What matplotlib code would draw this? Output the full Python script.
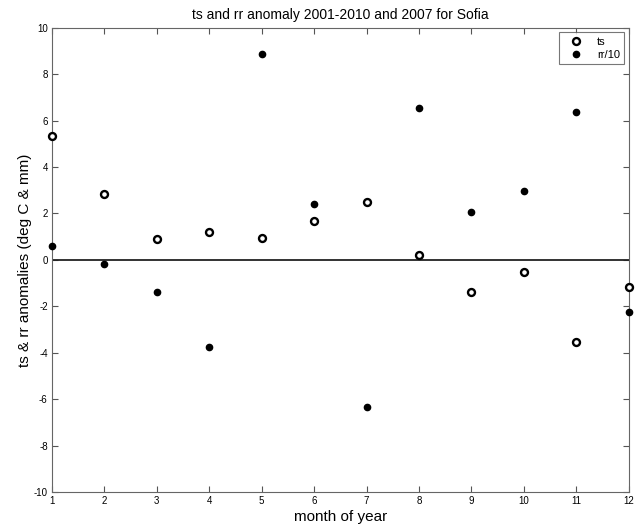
import numpy as np
import matplotlib.pyplot as plt

plt.rcParams['font.family'] = ['Liberation Sans', 'DejaVu Sans']
plt.rcParams['axes.unicode_minus'] = False

# monthly anomalies
months = np.arange(1, 13)
ts = [5.32, 2.86, 0.89, 1.19, 0.93, 1.68, 2.48, 0.21, -1.40, -0.52, -3.56, -1.19]
rr10 = [0.60, -0.17, -1.40, -3.76, 8.87, 2.40, -6.33, 6.56, 2.08, 2.95, 6.36, -2.23]

fig = plt.figure(figsize=(6.41, 5.25), dpi=100)
ax = fig.add_axes([0.081, 0.063, 0.900, 0.884])

ax.plot(months, ts, 'o', mfc='white', mec='black', mew=1.7, ms=5, label='ts', clip_on=False, zorder=3)
ax.plot(months, rr10, 'o', mfc='black', mec='black', ms=4.5, label='rr/10', clip_on=False, zorder=3)
ax.plot([1, 12], [0, 0], color='#222222', lw=1.3, zorder=2)

ax.set_xlim(1, 12)
ax.set_ylim(-10, 10)
ax.set_xticks(months)
ax.set_yticks(np.arange(-10, 11, 2))
ax.tick_params(direction='in', top=True, right=True, length=4, labelsize=7, color='#555555', pad=3)
for s in ax.spines.values():
    s.set_color('#666666')

ax.set_title('ts and rr anomaly 2001-2010 and 2007 for Sofia', fontsize=10)
ax.set_xlabel('month of year', fontsize=11, labelpad=3)
ax.set_ylabel('ts & rr anomalies (deg C & mm)', fontsize=11, labelpad=1)

leg = ax.legend(loc='upper right', fontsize=8, fancybox=False, edgecolor='#555555',
                borderaxespad=0.4, handletextpad=0.8, handlelength=2.2, borderpad=0.4,
                labelspacing=0.3)
leg.get_frame().set_linewidth(0.8)

fig.savefig('out.png', dpi=100)
